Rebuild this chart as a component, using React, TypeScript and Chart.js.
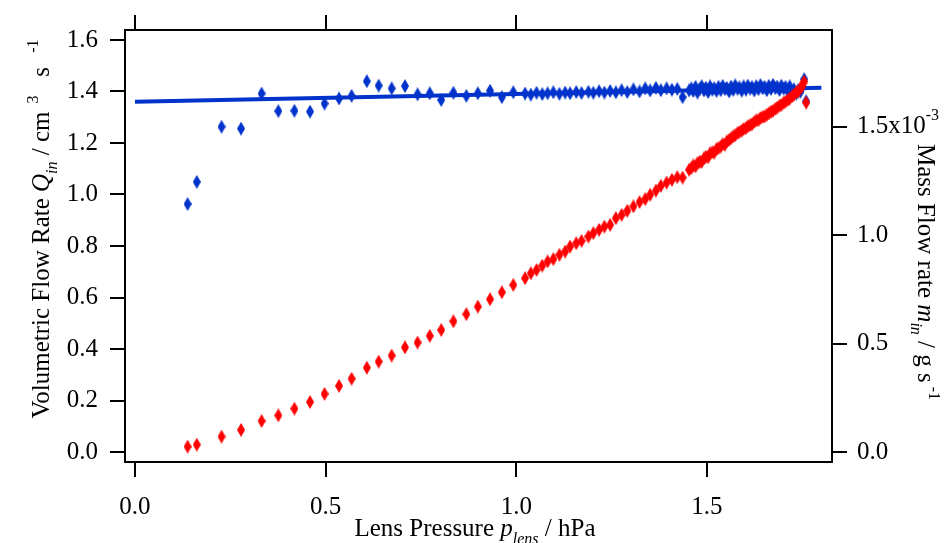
import React, { useEffect, useRef } from "react";
import { Chart, registerables } from "chart.js";

Chart.register(...registerables);

// Lens pressure / hPa
const pressure = [
  0.138, 0.162, 0.227, 0.278, 0.332, 0.376, 0.418, 0.459, 0.497, 0.535, 0.568, 0.608,
  0.639, 0.673, 0.708, 0.741, 0.773, 0.803, 0.835, 0.869, 0.899, 0.931, 0.962, 0.992,
  1.023, 1.038, 1.053, 1.068, 1.082, 1.097, 1.113, 1.128, 1.141, 1.157, 1.171, 1.189,
  1.202, 1.217, 1.231, 1.246, 1.261, 1.276, 1.291, 1.307, 1.323, 1.338, 1.351, 1.366,
  1.379, 1.394, 1.408, 1.422, 1.436, 1.453,
  1.459, 1.464, 1.470, 1.475, 1.481, 1.486, 1.492, 1.497, 1.503, 1.508, 1.514, 1.519,
  1.525, 1.530, 1.536, 1.541, 1.547, 1.552, 1.558, 1.563, 1.569, 1.574, 1.580, 1.585,
  1.591, 1.596, 1.602, 1.607, 1.613, 1.618, 1.624, 1.629, 1.635, 1.640, 1.646, 1.651,
  1.657, 1.662, 1.668, 1.673, 1.679, 1.684, 1.690, 1.695, 1.701, 1.706, 1.712, 1.717,
  1.723, 1.728, 1.734, 1.739, 1.745, 1.750, 1.755, 1.760,
];

// Volumetric flow rate Q_in / cm^3 s^-1
const flowQ = [
  0.963, 1.049, 1.263, 1.256, 1.392, 1.324, 1.325, 1.322, 1.353, 1.373, 1.383, 1.440,
  1.423, 1.412, 1.421, 1.389, 1.393, 1.367, 1.395, 1.383, 1.393, 1.403, 1.378, 1.397,
  1.392, 1.388, 1.395, 1.390, 1.393, 1.397, 1.391, 1.396, 1.393, 1.398, 1.394, 1.399,
  1.395, 1.401, 1.396, 1.402, 1.397, 1.405, 1.398, 1.408, 1.400, 1.412, 1.404, 1.414,
  1.405, 1.412, 1.407, 1.410, 1.378, 1.404,
  1.412, 1.402, 1.418, 1.396, 1.410, 1.421, 1.404, 1.415, 1.398, 1.420, 1.407, 1.413,
  1.402, 1.418, 1.405, 1.422, 1.409, 1.414, 1.400, 1.419, 1.406, 1.424, 1.410, 1.416,
  1.403, 1.420, 1.407, 1.423, 1.411, 1.417, 1.404, 1.421, 1.409, 1.425, 1.412, 1.418,
  1.405, 1.422, 1.410, 1.426, 1.413, 1.419, 1.406, 1.423, 1.411, 1.418, 1.402, 1.420,
  1.396, 1.408, 1.392, 1.405, 1.399, 1.418, 1.448, 1.362,
];

// Mass flow rate m_in / 10^-3 g s^-1
const massFlow = [
  0.025, 0.034, 0.071, 0.102, 0.143, 0.169, 0.200, 0.231, 0.268, 0.305, 0.338, 0.389,
  0.417, 0.445, 0.483, 0.505, 0.536, 0.563, 0.603, 0.636, 0.671, 0.705, 0.737, 0.771,
  0.802, 0.825, 0.840, 0.860, 0.879, 0.890, 0.910, 0.925, 0.948, 0.963, 0.974, 0.994,
  1.010, 1.025, 1.040, 1.048, 1.079, 1.094, 1.113, 1.133, 1.153, 1.167, 1.187, 1.206,
  1.228, 1.243, 1.256, 1.268, 1.266, 1.302,
  1.310, 1.322, 1.318, 1.333, 1.340, 1.338, 1.355, 1.362, 1.360, 1.378, 1.383, 1.381,
  1.398, 1.402, 1.409, 1.420, 1.418, 1.433, 1.440, 1.447, 1.456, 1.461, 1.472, 1.476,
  1.483, 1.490, 1.494, 1.503, 1.508, 1.512, 1.522, 1.530, 1.531, 1.541, 1.546, 1.548,
  1.556, 1.562, 1.570, 1.574, 1.583, 1.589, 1.598, 1.601, 1.612, 1.616, 1.625, 1.630,
  1.641, 1.648, 1.660, 1.663, 1.678, 1.690, 1.709, 1.612,
];

// Linear fit of Q_in
const fitPressure = [0.0, 1.8];
const fitQ = [1.36, 1.415];

const xTicks = [0.0, 0.5, 1.0, 1.5];
const leftTicks = [0.0, 0.2, 0.4, 0.6, 0.8, 1.0, 1.2, 1.4, 1.6];
const rightTicks = [0.0, 0.5, 1.0, 1.5];

const FONT = "'Liberation Serif', 'Times New Roman', serif";
const BLUE = "#0033cc";
const RED = "#ff0000";
const TICK_SIZE = 25;
const TITLE_SIZE = 25;

type Seg = { t: string; it?: boolean; s?: "sub" | "sup" };

function diamond(color: string): HTMLCanvasElement {
  const c = document.createElement("canvas");
  c.width = 8;
  c.height = 14;
  const g = c.getContext("2d")!;
  g.fillStyle = color;
  g.beginPath();
  g.moveTo(4, 0);
  g.lineTo(8, 7);
  g.lineTo(4, 14);
  g.lineTo(0, 7);
  g.closePath();
  g.fill();
  return c;
}

function segFont(seg: Seg, size: number) {
  const sz = seg.s ? Math.round(size * 0.65) : size;
  return `${seg.it ? "italic " : ""}${sz}px ${FONT}`;
}

function drawRich(ctx: CanvasRenderingContext2D, segs: Seg[], size: number, cx: number, cy: number, angle: number) {
  ctx.save();
  ctx.translate(cx, cy);
  ctx.rotate(angle);
  ctx.textBaseline = "alphabetic";
  ctx.textAlign = "left";
  ctx.fillStyle = "#000";
  let total = 0;
  const widths = segs.map((s) => {
    ctx.font = segFont(s, size);
    const w = ctx.measureText(s.t).width;
    total += w;
    return w;
  });
  let x = -total / 2;
  segs.forEach((s, i) => {
    ctx.font = segFont(s, size);
    const dy = s.s === "sub" ? size * 0.3 : s.s === "sup" ? -size * 0.45 : 0;
    ctx.fillText(s.t, x, dy);
    x += widths[i];
  });
  ctx.restore();
}

const titlesPlugin = {
  id: "richTitles",
  afterDraw(chart: any) {
    const ctx = chart.ctx as CanvasRenderingContext2D;
    drawRich(
      ctx,
      [{ t: "Lens Pressure " }, { t: "p", it: true }, { t: "lens", it: true, s: "sub" }, { t: " / hPa" }],
      TITLE_SIZE, 475, 536, 0
    );
    drawRich(
      ctx,
      [
        { t: "Volumetric Flow Rate " }, { t: "Q", it: true }, { t: "in", it: true, s: "sub" },
        { t: " / cm" }, { t: "  3", s: "sup" }, { t: "   s " }, { t: "  -1", s: "sup" },
      ],
      TITLE_SIZE, 49, 229, -Math.PI / 2
    );
    drawRich(
      ctx,
      [
        { t: "Mass Flow rate " }, { t: "m", it: true }, { t: "in", it: true, s: "sub" },
        { t: " / g s" }, { t: " -1", s: "sup" },
      ],
      TITLE_SIZE, 918, 272, Math.PI / 2
    );
    // exponent on the right axis top label
    const y2 = chart.scales.y2;
    ctx.save();
    ctx.font = `${TICK_SIZE}px ${FONT}`;
    const base = ctx.measureText("1.5x10").width;
    ctx.font = `${Math.round(TICK_SIZE * 0.65)}px ${FONT}`;
    ctx.fillStyle = "#000";
    ctx.textBaseline = "middle";
    ctx.textAlign = "left";
    ctx.fillText("-3", y2.left + 15 + 10 + base, y2.getPixelForValue(1.5) - TICK_SIZE * 0.45);
    ctx.restore();
  },
};

const X_MIN = -0.0262;
const X_MAX = 1.8278;

function axisCommon() {
  return {
    grid: { drawOnChartArea: false, drawTicks: true, tickLength: 15, color: "#000", lineWidth: 2 },
    border: { display: true, color: "#000", width: 2 },
  };
}

export default function App() {
  const ref = useRef<HTMLCanvasElement>(null);
  useEffect(() => {
    if (!ref.current) return;
    const blueMarker = diamond(BLUE);
    const redMarker = diamond(RED);
    const chart = new Chart(ref.current, {
      type: "scatter",
      data: {
        datasets: [
          {
            label: "Mass flow",
            data: pressure.map((p, i) => ({ x: p, y: massFlow[i] })),
            yAxisID: "y2",
            xAxisID: "x",
            pointStyle: redMarker as any,
            pointRadius: 5,
            order: 0,
          },
          {
            label: "Fit",
            data: fitPressure.map((p, i) => ({ x: p, y: fitQ[i] })),
            yAxisID: "y",
            xAxisID: "x",
            showLine: true,
            borderColor: BLUE,
            borderWidth: 4,
            pointRadius: 0,
            order: 1,
          },
          {
            label: "Volumetric flow",
            data: pressure.map((p, i) => ({ x: p, y: flowQ[i] })),
            yAxisID: "y",
            xAxisID: "x",
            pointStyle: blueMarker as any,
            pointRadius: 5,
            order: 2,
          },
        ],
      },
      options: {
        animation: false,
        responsive: false,
        layout: { padding: 0 },
        plugins: { legend: { display: false }, tooltip: { enabled: false } },
        scales: {
          x: {
            type: "linear",
            position: "bottom",
            min: X_MIN,
            max: X_MAX,
            afterBuildTicks: (a: any) => { a.ticks = xTicks.map((v) => ({ value: v })); },
            afterFit: (a: any) => { a.height = 81; },
            ticks: {
              callback: (v: any) => Number(v).toFixed(1),
              font: { family: FONT, size: TICK_SIZE },
              color: "#000",
              padding: 15,
              maxRotation: 0,
              autoSkip: false,
            },
            ...axisCommon(),
          },
          x2: {
            type: "linear",
            position: "top",
            min: X_MIN,
            max: X_MAX,
            afterBuildTicks: (a: any) => { a.ticks = xTicks.map((v) => ({ value: v })); },
            afterFit: (a: any) => { a.height = 30; },
            ticks: { display: false },
            ...axisCommon(),
          },
          y: {
            type: "linear",
            position: "left",
            min: -0.0388,
            max: 1.6388,
            afterBuildTicks: (a: any) => { a.ticks = leftTicks.map((v) => ({ value: v })); },
            afterFit: (a: any) => { a.width = 125; },
            ticks: {
              callback: (v: any) => Number(v).toFixed(1),
              font: { family: FONT, size: TICK_SIZE },
              color: "#000",
              padding: 12,
              autoSkip: false,
            },
            ...axisCommon(),
          },
          y2: {
            type: "linear",
            position: "right",
            min: -0.0461,
            max: 1.947,
            afterBuildTicks: (a: any) => { a.ticks = rightTicks.map((v) => ({ value: v })); },
            afterFit: (a: any) => { a.width = 113; },
            ticks: {
              callback: (v: any) => (Number(v) === 1.5 ? "1.5x10" : Number(v).toFixed(1)),
              font: { family: FONT, size: TICK_SIZE },
              color: "#000",
              padding: 10,
              autoSkip: false,
            },
            ...axisCommon(),
          },
        },
      },
      plugins: [titlesPlugin],
    });
    return () => chart.destroy();
  }, []);

  return (
    <div style={{ position: "fixed", left: 0, top: 0, width: 945, height: 543, background: "#fff" }}>
      <canvas ref={ref} width={945} height={543} style={{ display: "block", width: 945, height: 543 }} />
    </div>
  );
}
